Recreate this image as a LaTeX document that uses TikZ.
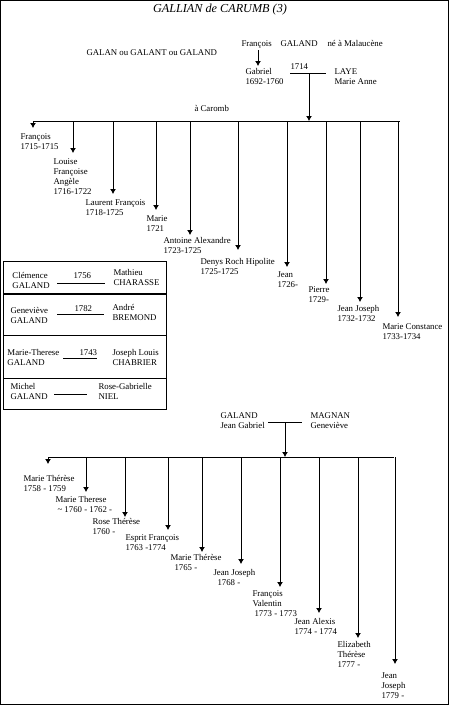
\documentclass[tikz,border=0pt]{standalone}
\usepackage{fontspec}
\setmainfont{Liberation Serif}
\usetikzlibrary{arrows.meta}
\tikzset{
    >={Latex[length=5pt,width=6pt]},
    txt/.style={anchor=north west, inner sep=0pt, align=left,
        font=\fontsize{8.8}{10}\selectfont, execute at begin node=\strut},
}
\begin{document}
\begin{tikzpicture}[x=1pt, y=-1pt, line width=1pt]
    \useasboundingbox (0,0) rectangle (449,705);
    % 边框
    \draw (0.5,0.5) rectangle (448,704.5);

    % 标题
    \node (title) at (220,10) {\fontsize{12.2}{13}\selectfont\itshape GALLIAN de CARUMB (3)};
    \node[txt] (galan) at (86,48) {GALAN ou GALANT ou GALAND};

    % 父母
    \node[txt] (francois) at (241,39) {François};
    \node[txt] (galand) at (280,39) {GALAND};
    \node[txt] (malaucene) at (327,39) {né à Malaucène};
    \node[txt] (gabriel) at (245,68) {Gabriel\\1692-1760};
    \node[txt] (laye) at (334,68) {LAYE\\Marie Anne};
    \node[txt] (y1714) at (290,62) {1714};
    \node[txt] (caromb) at (194,104) {à Caromb};
    \coordinate (gtip) at (258,66);
    \draw[->] (francois.south -| gtip) -- (gtip);
    \coordinate (mA) at (309,73);
    \draw (290,73) -- (326,73);

    % 子女
    \coordinate (barAl) at (33,121);
    \coordinate (barAr) at (400,121);
    \draw (barAl) -- (barAr);
    \draw[->] (mA) -- (mA |- barAl);

    \node[txt] (a1) at (20,133) {François\\1715-1715};
    \node[txt] (a2) at (53,158) {Louise\\Françoise\\Angèle\\1716-1722};
    \node[txt] (a3) at (85,199) {Laurent François\\1718-1725};
    \node[txt] (a4) at (146,215) {Marie\\1721};
    \node[txt] (a5) at (163,237) {Antoine Alexandre\\1723-1725};
    \node[txt] (a6) at (200,258) {Denys Roch Hipolite\\1725-1725};
    \node[txt] (a7) at (277,271) {Jean\\1726-};
    \node[txt] (a8) at (308,286) {Pierre\\1729-};
    \node[txt] (a9) at (337,305) {Jean Joseph\\1732-1732};
    \node[txt] (a10) at (382,323) {Marie Constance\\1733-1734};

    \coordinate (ta1) at (33,128);
    \coordinate (ta2) at (73,153);
    \coordinate (ta3) at (113,194);
    \coordinate (ta4) at (156,210);
    \coordinate (ta5) at (190,235);
    \coordinate (ta6) at (238,250);
    \coordinate (ta7) at (287,267);
    \coordinate (ta8) at (326,284);
    \coordinate (ta9) at (360,302);
    \coordinate (ta10) at (398,317);
    \draw[->] (ta1 |- barAl) -- (ta1);
    \draw[->] (ta2 |- barAl) -- (ta2);
    \draw[->] (ta3 |- barAl) -- (ta3);
    \draw[->] (ta4 |- barAl) -- (ta4);
    \draw[->] (ta5 |- barAl) -- (ta5);
    \draw[->] (ta6 |- barAl) -- (ta6);
    \draw[->] (ta7 |- barAl) -- (ta7);
    \draw[->] (ta8 |- barAl) -- (ta8);
    \draw[->] (ta9 |- barAl) -- (ta9);
    \draw[->] (ta10 |- barAl) -- (ta10);

    % 婚姻表
    \draw (3,261) rectangle (166,409);
    \draw[line width=2pt] (3,294) -- (166,294);
    \draw (3,335) -- (166,335);
    \draw (3,378) -- (166,378);

    \node[txt] (clemence) at (12,272) {Clémence\\GALAND};
    \node[txt] (y1756) at (73,271) {1756};
    \node[txt] (mathieu) at (113,269) {Mathieu\\CHARASSE};
    \draw (57,283) -- (105,283);

    \node[txt] (genevieveA) at (10,307) {Geneviève\\GALAND};
    \node[txt] (y1782) at (74,304) {1782};
    \node[txt] (andre) at (112,304) {André\\BREMOND};
    \draw (57,314) -- (104,314);

    \node[txt] (mariet) at (7,349) {Marie-Therese\\GALAND};
    \node[txt] (y1743) at (79,348) {1743};
    \node[txt] (joseph) at (112,349) {Joseph Louis\\CHABRIER};
    \draw (63,358) -- (97,358);

    \node[txt] (michel) at (10,383) {Michel\\GALAND};
    \node[txt] (rose) at (98,383) {Rose-Gabrielle\\NIEL};
    \draw (54,394) -- (87,394);

    % 第二家庭
    \node[txt] (galandB) at (220,412) {GALAND\\Jean Gabriel};
    \node[txt] (magnan) at (310,412) {MAGNAN\\Geneviève};
    \coordinate (mB) at (285,422);
    \draw (268,422) -- (302,422);
    \coordinate (barBl) at (48,457);
    \coordinate (barBr) at (394,457);
    \draw (barBl) -- (barBr);
    \draw[->] (mB) -- (mB |- barBl);

    \node[txt] (b1) at (23,475) {Marie Thérèse\\1758 - 1759};
    \node[txt] (b2) at (55,496) {Marie Therese\\\hspace*{2pt}\textasciitilde{} 1760 - 1762 -};
    \node[txt] (b3) at (92,518) {Rose Thérèse\\1760 -};
    \node[txt] (b4) at (125,534) {Esprit François\\1763 -1774};
    \node[txt] (b5) at (170,554) {Marie Thérèse\\\hspace*{4pt}1765 -};
    \node[txt] (b6) at (213,569) {Jean Joseph\\\hspace*{4pt}1768 -};
    \node[txt] (b7) at (252,590) {François\\Valentin\\\hspace*{2pt}1773 - 1773};
    \node[txt] (b8) at (294,618) {Jean Alexis\\1774 - 1774};
    \node[txt] (b9) at (337,641) {Elizabeth\\Thérèse\\1777 -};
    \node[txt] (b10) at (381,672) {Jean\\Joseph\\1779 -};

    \coordinate (tb1) at (48,464);
    \coordinate (tb2) at (86,492);
    \coordinate (tb3) at (125,517);
    \coordinate (tb4) at (168,530);
    \coordinate (tb5) at (202,552);
    \coordinate (tb6) at (241,564);
    \coordinate (tb7) at (280,587);
    \coordinate (tb8) at (319,613);
    \coordinate (tb9) at (358,638);
    \coordinate (tb10) at (395,664);
    \draw[->] (tb1 |- barBl) -- (tb1);
    \draw[->] (tb2 |- barBl) -- (tb2);
    \draw[->] (tb3 |- barBl) -- (tb3);
    \draw[->] (tb4 |- barBl) -- (tb4);
    \draw[->] (tb5 |- barBl) -- (tb5);
    \draw[->] (tb6 |- barBl) -- (tb6);
    \draw[->] (tb7 |- barBl) -- (tb7);
    \draw[->] (tb8 |- barBl) -- (tb8);
    \draw[->] (tb9 |- barBl) -- (tb9);
    \draw[->] (tb10 |- barBl) -- (tb10);
\end{tikzpicture}
\end{document}
